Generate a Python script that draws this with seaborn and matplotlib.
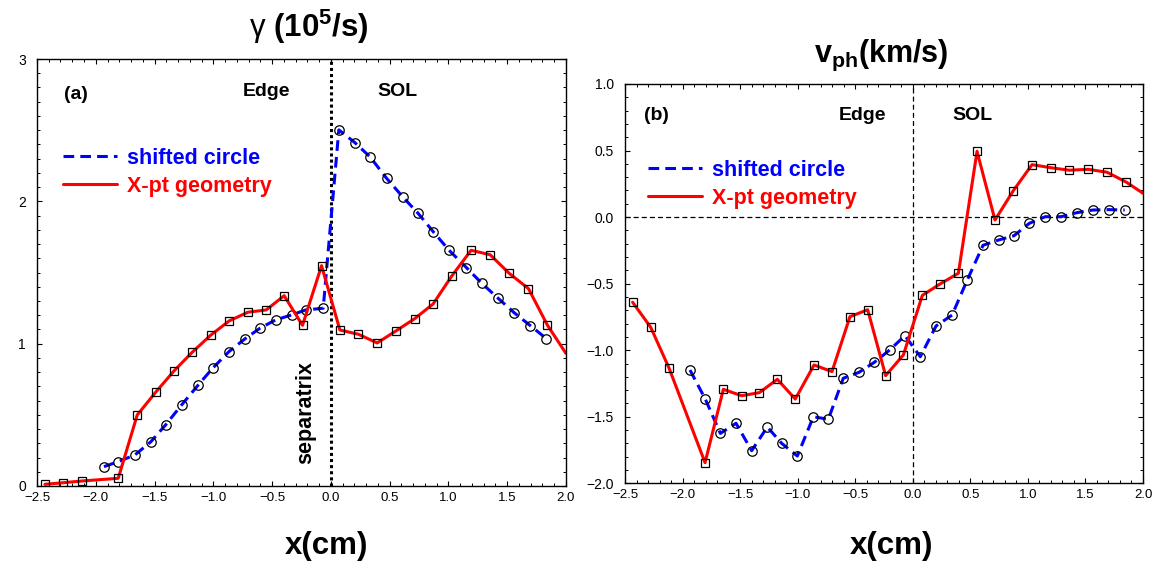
import numpy as np
import pandas as pd
import matplotlib
matplotlib.use("Agg")
import matplotlib.pyplot as plt
import seaborn as sns
from matplotlib.lines import Line2D
from matplotlib.ticker import MultipleLocator

# ---------------- data ----------------
# panel (a): growth rate gamma (1e5/s)
xa_circ = [-1.930, -1.809, -1.667, -1.531, -1.406, -1.270, -1.128, -1.006, -0.867, -0.729,
           -0.604, -0.470, -0.334, -0.213, -0.065, 0.068, 0.204, 0.334, 0.474, 0.610,
           0.742, 0.873, 1.006, 1.154, 1.284, 1.423, 1.559, 1.698, 1.834]
ya_circ = [0.136, 0.171, 0.218, 0.311, 0.429, 0.569, 0.710, 0.827, 0.944, 1.035,
           1.108, 1.167, 1.202, 1.237, 1.249, 2.502, 2.413, 2.312, 2.162, 2.033,
           1.916, 1.785, 1.656, 1.534, 1.424, 1.319, 1.218, 1.126, 1.035]
xa_xpt = [-2.432, -2.276, -2.120, -1.809, -1.647, -1.491, -1.335, -1.179, -1.023, -0.865,
          -0.706, -0.550, -0.397, -0.241, -0.079, 0.077, 0.235, 0.394, 0.553, 0.714,
          0.870, 1.029, 1.193, 1.355, 1.516, 1.681, 1.843, 2.0]
ya_xpt = [0.012, 0.023, 0.035, 0.054, 0.499, 0.658, 0.808, 0.940, 1.059, 1.160,
          1.221, 1.237, 1.337, 1.129, 1.548, 1.096, 1.066, 1.005, 1.089, 1.176,
          1.279, 1.476, 1.656, 1.625, 1.495, 1.387, 1.129, 0.932]

# panel (b): phase velocity v_ph (km/s)
xb_circ = [-1.936, -1.803, -1.672, -1.536, -1.400, -1.264, -1.139, -1.003, -0.864, -0.734,
           -0.604, -0.467, -0.334, -0.201, -0.068, 0.065, 0.202, 0.341, 0.473, 0.610,
           0.746, 0.879, 1.012, 1.151, 1.288, 1.424, 1.563, 1.702, 1.841]
yb_circ = [-1.149, -1.367, -1.625, -1.549, -1.755, -1.577, -1.700, -1.795, -1.500, -1.519,
           -1.211, -1.166, -1.091, -0.998, -0.891, -1.049, -0.818, -0.736, -0.473, -0.212,
           -0.172, -0.140, -0.047, 0.003, 0.003, 0.033, 0.053, 0.056, 0.053]
xb_xpt = [-2.434, -2.277, -2.118, -1.805, -1.646, -1.487, -1.334, -1.177, -1.021, -0.858,
          -0.702, -0.546, -0.392, -0.236, -0.082, 0.083, 0.236, 0.396, 0.558, 0.714,
          0.873, 1.036, 1.198, 1.360, 1.522, 1.687, 1.852, 2.0]
yb_xpt = [-0.640, -0.828, -1.134, -1.845, -1.294, -1.342, -1.319, -1.219, -1.367, -1.111,
          -1.161, -0.748, -0.696, -1.191, -1.036, -0.588, -0.503, -0.422, 0.494, -0.022,
          0.198, 0.394, 0.371, 0.352, 0.359, 0.337, 0.264, 0.179]

series_labels = ["shifted circle", "X-pt geometry"]
BLUE = "#0000ff"
RED = "#ff0000"

# ---------------- style ----------------
sns.set_theme(style="ticks", rc={
    "xtick.direction": "in", "ytick.direction": "in",
    "xtick.top": True, "ytick.right": True,
    "xtick.major.size": 3.6, "ytick.major.size": 3.6,
    "xtick.minor.size": 2.2, "ytick.minor.size": 2.2,
    "xtick.major.width": 0.8, "ytick.major.width": 0.8,
    "xtick.minor.width": 0.7, "ytick.minor.width": 0.7,
    "axes.edgecolor": "black", "axes.linewidth": 1.0,
    "xtick.color": "black", "ytick.color": "black",
    "text.color": "black", "axes.labelcolor": "black",
    "xtick.labelcolor": "black", "ytick.labelcolor": "black",
})
plt.rcParams["font.family"] = ["Liberation Sans", "DejaVu Sans"]
plt.rcParams["mathtext.fontset"] = "custom"
plt.rcParams["mathtext.rm"] = "Liberation Sans"
plt.rcParams["mathtext.bf"] = "Liberation Sans:bold"
plt.rcParams["mathtext.it"] = "Liberation Sans:italic"

fig = plt.figure(figsize=(11.59, 5.61), dpi=100)
ax1 = fig.add_axes([0.0319, 0.1337, 0.4564, 0.7611])
ax2 = fig.add_axes([0.5393, 0.1385, 0.4469, 0.7118])

DASH = (0, (3.5, 2.0))


def draw(ax, x, y, color, ls, marker, ms, nmark):
    sns.lineplot(x=x, y=y, ax=ax, color=color, linestyle=ls, lw=2.2,
                 marker=marker, ms=ms, mfc="none", mec="black", mew=0.9,
                 markevery=list(range(nmark)), estimator=None, sort=False,
                 legend=False)


for ax, xc, yc, xx, yx in [(ax1, xa_circ, ya_circ, xa_xpt, ya_xpt),
                           (ax2, xb_circ, yb_circ, xb_xpt, yb_xpt)]:
    draw(ax, xc, yc, BLUE, DASH, "o", 6.8, len(xc))
    draw(ax, xx, yx, RED, "-", "s", 5.8, len(xx) - 1)
    ax.set_xlim(-2.5, 2.0)
    ax.xaxis.set_major_locator(MultipleLocator(0.5))
    ax.xaxis.set_minor_locator(MultipleLocator(0.1))
    ax.yaxis.set_minor_locator(MultipleLocator(0.1))
    ax.set_xlabel("")
    ax.set_ylabel("")
    ax.tick_params(axis="x", which="both", labelsize=9.5, pad=4)
    ax.tick_params(axis="y", which="both", labelsize=10, pad=8)
    handles = [Line2D([], [], color=BLUE, ls=DASH, lw=2.2),
               Line2D([], [], color=RED, ls="-", lw=2.2)]
    leg = ax.legend(handles, series_labels, loc="upper left",
                    bbox_to_anchor=(0.049 if ax is ax1 else 0.044,
                                    0.792 if ax is ax1 else 0.81),
                    frameon=False, borderpad=0, borderaxespad=0,
                    handlelength=2.5, handletextpad=0.5, labelspacing=0.33,
                    prop={"weight": "bold", "size": 15.5})
    for t, c in zip(leg.get_texts(), [BLUE, RED]):
        t.set_color(c)

# panel (a) specifics
ax1.set_ylim(0, 3)
ax1.yaxis.set_major_locator(MultipleLocator(1))
ax1.axvline(0, color="black", ls=(0, (1, 1)), lw=2.2, zorder=1)
ax1.text(0.074, 0.916, "(a)", transform=ax1.transAxes, ha="center", va="center",
         fontsize=14, fontweight="bold")
ax1.text(0.433, 0.925, "Edge", transform=ax1.transAxes, ha="center", va="center",
         fontsize=14, fontweight="bold")
ax1.text(0.682, 0.925, "SOL", transform=ax1.transAxes, ha="center", va="center",
         fontsize=14, fontweight="bold")
ax1.text(0.5076, 0.173, "separatrix", transform=ax1.transAxes, ha="center",
         va="center", rotation=90, fontsize=15.5, fontweight="bold")

# panel (b) specifics
ax2.set_ylim(-2.0, 1.0)
ax2.yaxis.set_major_locator(MultipleLocator(0.5))
ax2.axvline(0, color="black", ls=(0, (4, 2.5)), lw=0.9, zorder=1)
ax2.axhline(0, color="black", ls=(0, (4, 2.5)), lw=0.9, zorder=1)
ax2.text(0.06, 0.92, "(b)", transform=ax2.transAxes, ha="center", va="center",
         fontsize=14, fontweight="bold")
ax2.text(0.459, 0.92, "Edge", transform=ax2.transAxes, ha="center", va="center",
         fontsize=14, fontweight="bold")
ax2.text(0.67, 0.92, "SOL", transform=ax2.transAxes, ha="center", va="center",
         fontsize=14, fontweight="bold")

# titles and x labels
W, H = 1159.0, 561.0
fig.text(309 / W, 1 - 27 / H, r"$\mathrm{\gamma}$ $\mathbf{(10^{5}/s)}$",
         ha="center", va="center", fontsize=22.5, fontweight="bold")
fig.text(881 / W, 1 - 55 / H, r"$\mathbf{v_{ph}(km/s)}$",
         ha="center", va="center", fontsize=22, fontweight="bold")
fig.text(326 / W, 1 - 546 / H, "x(cm)", ha="center", va="center",
         fontsize=22.5, fontweight="bold")
fig.text(891 / W, 1 - 546 / H, "x(cm)", ha="center", va="center",
         fontsize=22.5, fontweight="bold")

fig.savefig("out.png", dpi=100)
